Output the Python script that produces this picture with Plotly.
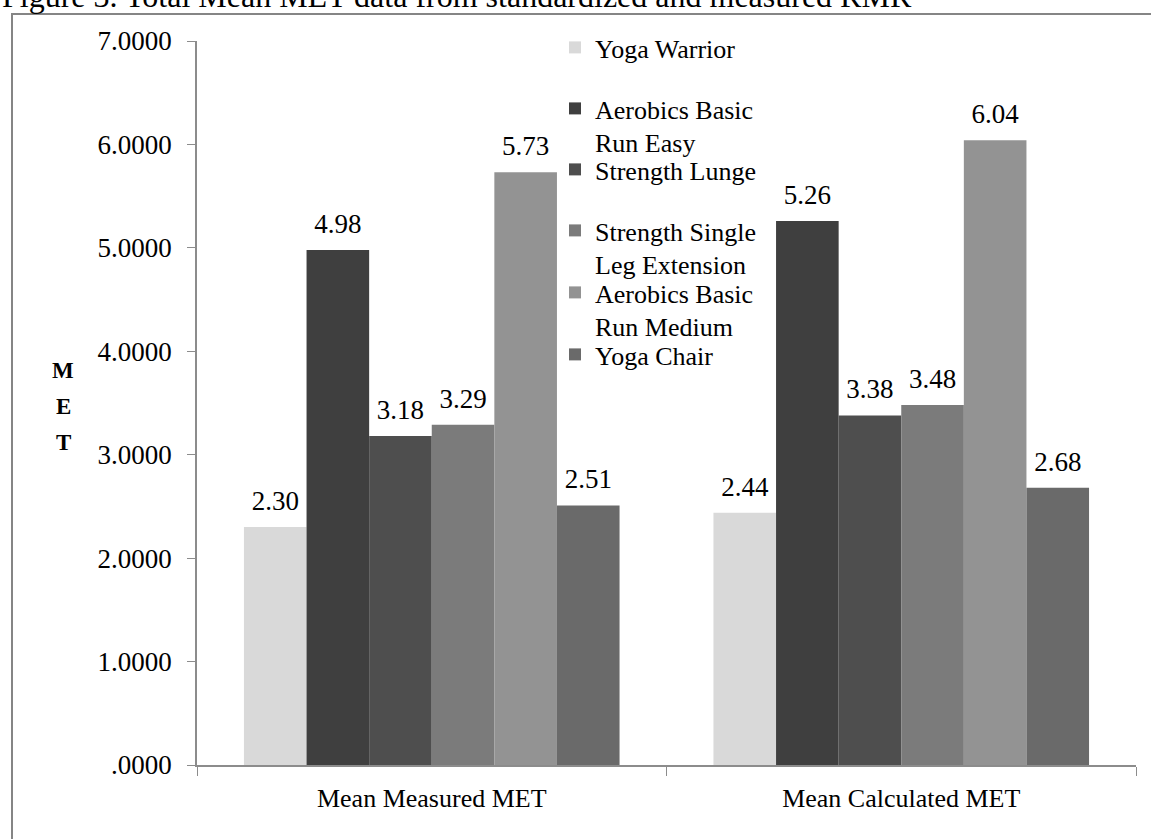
import plotly.graph_objects as go

# ---- data ----
categories = ["Mean Measured MET", "Mean Calculated MET"]
series_names = [
    "Yoga Warrior",
    "Aerobics Basic<br>Run Easy",
    "Strength Lunge",
    "Strength Single<br>Leg Extension",
    "Aerobics Basic<br>Run Medium",
    "Yoga Chair",
]
yoga_warrior = [2.30, 2.44]
aerobics_run_easy = [4.98, 5.26]
strength_lunge = [3.18, 3.38]
strength_single_leg = [3.29, 3.48]
aerobics_run_medium = [5.73, 6.04]
yoga_chair = [2.51, 2.68]
series_values = [yoga_warrior, aerobics_run_easy, strength_lunge,
                 strength_single_leg, aerobics_run_medium, yoga_chair]
y_tickvals = [0, 1, 2, 3, 4, 5, 6, 7]
y_ticktext = [".0000", "1.0000", "2.0000", "3.0000", "4.0000", "5.0000", "6.0000", "7.0000"]
title_text = "Figure 3. Total Mean MET data from standardized and measured RMR"
y_title_letters = ["M", "E", "T"]

# ---- style ----
colors = ["#d9d9d9", "#3f3f3f", "#4e4e4e", "#7b7b7b", "#939393", "#6a6a6a"]
legend_rows_px = [50, 111, 172, 233, 295, 357]   # centre of first legend line
FONT = "Liberation Serif, Times New Roman, serif"
W, H = 1151, 839
L, R, T, B = 197, 1136, 41, 765   # plot area in pixels
PW, PH = R - L, B - T
GAP = 0.2

def px(x):
    return (x - L) / PW

def py(y):
    return (B - y) / PH

fig = go.Figure()
legend_layouts = {}
for k, (name, vals, col) in enumerate(zip(series_names, series_values, colors)):
    lg = "legend" if k == 0 else f"legend{k + 1}"
    grp = f"g{k}"
    fig.add_trace(go.Bar(
        x=categories, y=vals, name=name, legend=lg, offsetgroup=grp,
        marker=dict(color=col, line=dict(width=0)),
        hoverinfo="skip",
    ))
    # value labels, grouped like the bars, lifted by an invisible marker
    fig.add_trace(go.Scatter(
        x=categories, y=vals, mode="markers+text", offsetgroup=grp,
        text=[f"{v:.2f}" for v in vals], textposition="top center",
        textfont=dict(family=FONT, size=27, color="black"),
        marker=dict(size=15, opacity=0, color=col),
        showlegend=False, hoverinfo="skip", cliponaxis=False,
    ))
    legend_layouts[lg] = dict(
        x=px(555), y=py(legend_rows_px[k] - 26), xanchor="left", yanchor="top",
        bgcolor="rgba(0,0,0,0)", valign="top", borderwidth=0,
        font=dict(family=FONT, size=26, color="black"),
    )

annotations = [
    dict(text=title_text, xref="paper", yref="paper", x=px(0), y=py(-4),
         xanchor="left", yanchor="middle", showarrow=False,
         font=dict(family=FONT, size=32, color="black")),
]
for i, letter in enumerate(y_title_letters):
    annotations.append(dict(
        text=f"<b>{letter}</b>", xref="paper", yref="paper",
        x=px(63), y=py(370 + 36 * i), xanchor="center", yanchor="middle",
        showarrow=False, font=dict(family=FONT, size=23, color="black")))

fig.update_layout(
    width=W, height=H,
    margin=dict(l=L, r=W - R, t=T, b=H - B, pad=0),
    paper_bgcolor="white", plot_bgcolor="white",
    barmode="group", bargap=GAP, bargroupgap=0,
    scattermode="group", scattergap=GAP,
    showlegend=True,
    font=dict(family=FONT, color="black"),
    annotations=annotations,
    shapes=[dict(type="rect", xref="paper", yref="paper",
                 x0=px(12), x1=px(1175), y0=py(870), y1=py(14),
                 line=dict(color="#858585", width=2), layer="above")],
    **legend_layouts,
)
fig.update_xaxes(
    showline=True, linecolor="#8c8c8c", linewidth=1.5,
    ticks="outside", tickson="boundaries", ticklen=9, tickcolor="#8c8c8c",
    tickfont=dict(family=FONT, size=26, color="black"),
    ticklabelstandoff=9, showgrid=False, zeroline=False,
)
fig.update_yaxes(
    range=[0, 7], tickvals=y_tickvals, ticktext=y_ticktext,
    showline=True, linecolor="#8c8c8c", linewidth=1.5,
    ticks="outside", ticklen=8, tickcolor="#8c8c8c",
    tickfont=dict(family=FONT, size=27, color="black"),
    ticklabelstandoff=10, showgrid=False, zeroline=False,
)

fig.write_html("out.html", config={"displayModeBar": False},
               post_script="document.body.style.margin='0';")
